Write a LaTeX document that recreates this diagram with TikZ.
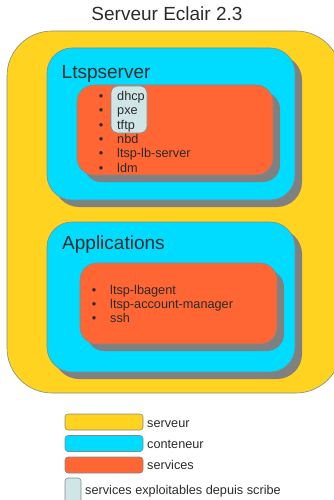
\documentclass[tikz,border=0pt]{standalone}
\usepackage{fontspec}
\setmainfont{Liberation Sans}
\usetikzlibrary{shadows}
\definecolor{serveurcol}{HTML}{FFD320}
\definecolor{conteneurcol}{HTML}{00DCFF}
\definecolor{servicescol}{HTML}{FF6633}
\definecolor{scribecol}{HTML}{D0E6E6}
\definecolor{ombrecol}{HTML}{808080}
\definecolor{bordcol}{HTML}{7F8C8D}
\definecolor{textecol}{HTML}{2B2B2B}
\tikzset{
  boite/.style={draw=bordcol, line width=0.6pt, inner sep=0pt, outer sep=0pt},
  ombre/.style={drop shadow={shadow xshift=7pt, shadow yshift=-7pt, fill=ombrecol, opacity=1}},
  serveurbox/.style={boite, fill=serveurcol, rounded corners=45pt},
  conteneurbox/.style={boite, ombre, fill=conteneurcol, rounded corners=25pt},
  servicesbox/.style={boite, ombre, fill=servicescol, rounded corners=17pt},
  scribebox/.style={boite, fill=scribecol, rounded corners=7pt},
  legendbox/.style={boite, rounded corners=3pt, minimum width=78pt, minimum height=16pt},
  grandtexte/.style={inner sep=0pt, text=textecol, font=\fontsize{19}{23}\selectfont},
  petittexte/.style={inner sep=0pt, text=textecol, font=\fontsize{12.7}{15}\selectfont, anchor=base west},
  puce/.style={inner sep=0pt, text=textecol, font=\fontsize{12.7}{15}\selectfont, anchor=base}
}
\begin{document}
\begin{tikzpicture}[x=1pt, y=-1pt]
    \useasboundingbox (0, 0) rectangle (334, 500);
    \node[grandtexte, anchor=base] (titre) at (167, 21) {Serveur Eclair 2.3};
    \node[serveurbox, minimum width=334pt, minimum height=362pt] (serveur) at (174, 212) {};
    \node[conteneurbox, minimum width=248pt, minimum height=152pt] (ltspserver) at (171, 124) {};
    \node[servicesbox, minimum width=196pt, minimum height=90pt] (ltspservices) at (175, 130) {};
    \node[scribebox, minimum width=36pt, minimum height=47pt] (scribe) at (129, 109.5) {};
    \node[grandtexte, anchor=base west] (ltsptitre) at (61.5, 79) {Ltspserver};
    \foreach \nom/\texte [count=\i from 0] in {dhcp/dhcp, pxe/pxe, tftp/tftp, nbd/nbd, lbserver/ltsp-lb-server, ldm/ldm} {
        \node[puce] (puce\nom) at (101, 100.5 + 14.3*\i) {•};
        \node[petittexte] (\nom) at (117, 100.5 + 14.3*\i) {\texte};
    }
    \node[conteneurbox, minimum width=248pt, minimum height=150pt] (applications) at (171, 297) {};
    \node[servicesbox, minimum width=197pt, minimum height=81pt] (appservices) at (178.5, 303.5) {};
    \node[grandtexte, anchor=base west] (apptitre) at (62, 249) {Applications};
    \foreach \nom/\texte [count=\i from 0] in {lbagent/ltsp-lbagent, accountmanager/ltsp-account-manager, ssh/ssh} {
        \node[puce] (puce\nom) at (94, 294 + 14.3*\i) {•};
        \node[petittexte] (\nom) at (110, 294 + 14.3*\i) {\texte};
    }
    \node[legendbox, fill=serveurcol] (legserveur) at (104, 422) {};
    \node[petittexte] (txtserveur) at (147, 427) {serveur};
    \node[legendbox, fill=conteneurcol] (legconteneur) at (104, 443.5) {};
    \node[petittexte] (txtconteneur) at (147, 448) {conteneur};
    \node[legendbox, fill=servicescol] (legservices) at (104, 465) {};
    \node[petittexte] (txtservices) at (147, 469.5) {services};
    \node[boite, fill=scribecol, rounded corners=3pt, minimum width=16pt, minimum height=27pt] (legscribe) at (73, 491.5) {};
    \node[petittexte] (txtscribe) at (85, 494) {services exploitables depuis scribe};
  \end{tikzpicture}
\end{document}
